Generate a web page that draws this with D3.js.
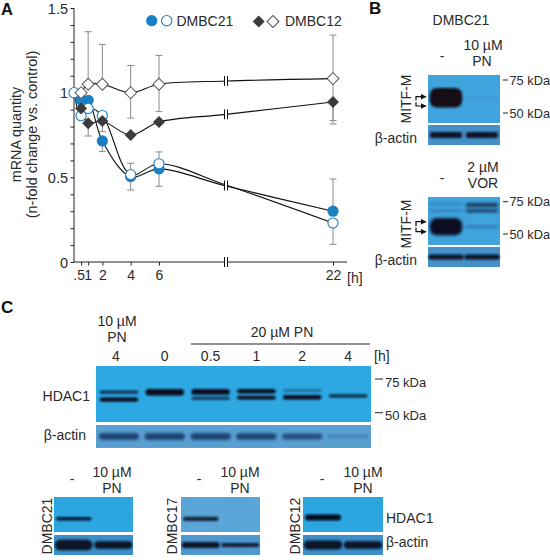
<!DOCTYPE html>
<html><head><meta charset="utf-8">
<script src="https://cdn.jsdelivr.net/npm/d3@7"></script>
<style>
html,body{margin:0;padding:0;background:#fff}
svg{display:block}
text{font-family:"Liberation Sans",Arial,sans-serif;font-size:14px;fill:#2a2a2a}
</style></head><body>
<svg id="c" width="550" height="560"></svg>
<script>
// ---------- Panel A data (n-fold mRNA, hours) ----------
const hours = [0.5, 1, 2, 4, 6, 22];
const breakHour = 12.16;
const dmbc21Treated = [[0.5,0.957],[1,0.955],[2,0.715],[4,0.504],[6,0.55],[breakHour,0.449],[22,0.30]];
const dmbc21Control = [[0,1.0],[0.5,0.864],[1,0.907],[2,0.865],[4,0.516],[6,0.58],[breakHour,0.455],[22,0.23]];
const dmbc12Treated = [[0.5,0.907],[1,0.82],[2,0.833],[4,0.75],[6,0.827],[breakHour,0.872],[22,0.945]];
const dmbc12Control = [[0.5,1.0],[1,1.05],[2,1.05],[4,1.0],[6,1.05],[breakHour,1.069],[22,1.083]];
// [hour, value, whisker end]
const errorBarsGrey = [[1,1.05,1.36],[2,1.05,1.285],[4,1.0,1.16],[4,1.0,0.85],[6,1.05,1.22],[6,1.05,0.888],
  [22,1.083,1.34],[22,1.083,0.835],[1,0.82,0.744],[2,0.715,0.652],[2,0.865,0.77],[22,0.945,0.815],
  [4,0.504,0.425],[6,0.55,0.447],[22,0.30,0.49],[4,0.516,0.583],[6,0.58,0.65],[22,0.23,0.104]];
const yTicks = [0,0.1,0.2,0.3,0.4,0.5,0.6,0.7,0.8,0.9,1,1.1,1.2,1.3,1.4,1.5];
const yLabelled = {0:"0",0.5:"0.5",1:"1",1.5:"1.5"};

// ---------- Blot data: [lane, kDa, signal] ----------
const mitfPnBands = [[0,60.3,6],[1,60,0.1]];
const mitfVorBands = [[0,73,0.25],[0,67,0.25],[0,54.8,5.2],[1,72,0.7],[1,67,0.6],[1,54.8,0.3]];
const hdacTimeBands = [[0,64,0.6],[0,58.5,0.95],[1,64,1.6],[2,64.2,1.4],[2,59.5,0.6],[3,64.8,1],[3,60,0.8],
  [4,65.2,0.35],[4,60.3,1],[5,61.2,0.65]];
const hdacTimeLabels = ["4","0","0.5","1","2","4"];
const actinPn = [1.1,1.1];
const actinVor = [1,1];
const actinTime = [0.85,0.85,0.85,0.8,0.7,0.3];
const hdac21Bands = [[0,62,0.8],[1,62,0.03]];
const hdac17Bands = [[0,62,1],[1,62,0.01]];
const hdac12Bands = [[0,63.5,1.6],[1,62,0.05]];
const actin21 = [2.4,1.6];
const actin17 = [1.3,0.75];
const actin12 = [2,1.6];
const lineNames = ["DMBC21","DMBC17","DMBC12"];
const mwMarks = ["75 kDa","50 kDa"];

const svg = d3.select("#c");
const defs = svg.append("defs");
defs.append("filter").attr("id","blur").attr("x","-20%").attr("y","-100%").attr("width","140%").attr("height","300%")
  .append("feGaussianBlur").attr("stdDeviation","0.9");
defs.append("filter").attr("id","blur2").attr("x","-20%").attr("y","-100%").attr("width","140%").attr("height","300%")
  .append("feGaussianBlur").attr("stdDeviation","1.4");
const mk = defs.append("marker").attr("id","ah").attr("markerUnits","userSpaceOnUse").attr("markerWidth",7).attr("markerHeight",7).attr("refX",5.5).attr("refY",3).attr("orient","auto");
mk.append("path").attr("d","M0,0L6,3L0,6Z").attr("fill","#111");

function t(x,y,s,o={}){
  const e=svg.append("text").attr("x",x).attr("y",y).text(s).attr("text-anchor",o.a||"start");
  if(o.rot) e.attr("transform",`rotate(-90 ${x} ${y})`);
  if(o.b) e.style("font-weight","700").style("font-size",o.b+"px").style("fill","#111");
  if(o.size) e.style("font-size",o.size+"px");
  return e;
}

// ---------- Panel A ----------
t(1,15,"A",{b:16.5});
const xA = d3.scaleLinear().domain([0,6,22]).range([74,159,333]);
const yA = d3.scaleLinear().domain([0,1.5]).range([262,8]);
const gA = svg.append("g");
const yAxis = d3.axisLeft(yA).tickValues(yTicks).tickSize(3.5).tickFormat(d=>{const k=+d.toFixed(1);return yLabelled[k]||"";});
const ga = gA.append("g").attr("transform","translate(74,0)").call(yAxis);
ga.select(".domain").attr("d","M0,8V262").attr("stroke","#222");
ga.selectAll("line").attr("stroke","#222");
ga.selectAll("text").style("font-size","14.5px").attr("x",-6).attr("dy","0.36em");
const xAxis = d3.axisBottom(xA).tickValues(hours).tickSize(3.5).tickFormat(d=>d===0.5?".5":d);
const gx = gA.append("g").attr("transform","translate(0,262)").call(xAxis);
gx.select(".domain").attr("d","M74,0H347").attr("stroke","#222");
gx.selectAll("line").attr("stroke","#222");
gx.selectAll("text").style("font-size","14px").attr("y",7).attr("dy","0.8em");
gx.selectAll(".tick").filter(d=>d===0.5).select("text").attr("x",-2.5);
gx.selectAll(".tick").filter(d=>d===1).select("text").attr("x",-0.5);
t(347,283,"[h]");

t(20.5,134.5,"mRNA quantity",{a:"middle",rot:1,size:14.3});
t(37,134.5,"(n-fold change vs. control)",{a:"middle",rot:1,size:14.5});

// error bars
const eb = gA.append("g").attr("stroke","#8a8a8a").attr("stroke-width",1).attr("fill","none");
eb.selectAll("path").data(errorBarsGrey).join("path")
  .attr("d",d=>`M${xA(d[0])},${yA(d[1])}V${yA(d[2])}`);
eb.selectAll("line").data(errorBarsGrey).join("line")
  .attr("x1",d=>xA(d[0])-3.5).attr("x2",d=>xA(d[0])+3.5)
  .attr("y1",d=>yA(d[2])).attr("y2",d=>yA(d[2]));

// lines
const line = d3.line().x(d=>xA(d[0])).y(d=>yA(d[1])).curve(d3.curveCatmullRom.alpha(0.5));
const lineG = gA.append("g").attr("fill","none").attr("stroke","#111").attr("stroke-width",1.1);
[dmbc12Control,dmbc12Treated,dmbc21Control,dmbc21Treated].forEach(s=>lineG.append("path").attr("d",line(s)));

// break marks
function breakMark(hr,v){
  const x=xA(hr), y=v===0?262:yA(v);
  gA.append("rect").attr("x",x-1.2).attr("y",y-5).attr("width",2.4).attr("height",10).attr("fill","#fff");
  gA.selectAll(null).data([-1.5,1.5]).join("line").attr("x1",d=>x+d).attr("x2",d=>x+d)
    .attr("y1",y-5).attr("y2",y+5).attr("stroke","#111").attr("stroke-width",1);
}
breakMark(breakHour,0);
[dmbc12Control,dmbc12Treated].forEach(s=>breakMark(breakHour,s.find(d=>d[0]===breakHour)[1]));
breakMark(breakHour,0.452);

// markers
const BLUE="#1a80c4", DARK="#3b3b3b";
const diamond = d3.symbol().type(d3.symbolSquare).size(72)();
const noBreak = s=>s.filter(d=>d[0]!==breakHour);
function circles(s,fill){
  gA.selectAll(null).data(noBreak(s)).join("circle").attr("cx",d=>xA(d[0])).attr("cy",d=>yA(d[1])).attr("r",fill?5.6:5.1)
   .attr("fill",fill?BLUE:"#fff").attr("stroke",BLUE).attr("stroke-width",fill?0:1.1);
}
function diamonds(s,fill){
  gA.selectAll(null).data(noBreak(s)).join("path").attr("d",diamond)
   .attr("transform",d=>`translate(${xA(d[0])},${yA(d[1])}) rotate(45)`)
   .attr("fill",fill?DARK:"#fff").attr("stroke",fill?DARK:"#555").attr("stroke-width",fill?0:1);
}
circles(dmbc21Treated,true);
circles(dmbc21Control,false);
diamonds(dmbc12Control,false);
diamonds(dmbc12Treated,true);

// legend
const leg = svg.append("g");
leg.append("circle").attr("cx",151.7).attr("cy",20.7).attr("r",5.6).attr("fill",BLUE);
leg.append("circle").attr("cx",166.7).attr("cy",20.7).attr("r",5.2).attr("fill","#fff").attr("stroke",BLUE).attr("stroke-width",1.1);
leg.append("path").attr("d",diamond).attr("transform","translate(258.7,21.5) rotate(45)").attr("fill",DARK);
leg.append("path").attr("d",diamond).attr("transform","translate(273,21.5) rotate(45)").attr("fill","#fff").attr("stroke","#555");
t(176.5,25.5,"DMBC21");
t(285,26,"DMBC12");

// ---------- Blots ----------
function strip(o){
  const {x0,x1,top,bottom,bg,ink,lanes,bands,mw,actin,blur="blur"}=o;
  const g=svg.append("g");
  g.append("rect").attr("x",x0).attr("y",top).attr("width",x1-x0).attr("height",bottom-top).attr("fill",bg);
  const xL=d3.scaleBand().domain(d3.range(lanes)).range([x0,x1]).paddingInner(o.pad||0.1).paddingOuter((o.pad||0.1)/2);
  const thick=d3.scaleLinear().domain([0,1]).range([1.1,o.k||4.2]);
  const alpha=d3.scaleLinear().domain([0,1]).range([0,1]).clamp(true);
  const corner=d=>Math.min(7,thick(d)/2);
  if(bands){
    const yB=d3.scaleLog().domain([75,50]).range(mw);
    g.selectAll(null).data(bands).join("rect")
     .attr("x",d=>xL(d[0])).attr("width",xL.bandwidth())
     .attr("y",d=>yB(d[1])-thick(d[2])/2).attr("height",d=>thick(d[2]))
     .attr("rx",d=>corner(d[2])).attr("fill",ink).attr("opacity",d=>alpha(d[2]*1.25)).attr("filter",`url(#${blur})`);
  }
  if(actin){
    const mid=(top+bottom)/2;
    g.selectAll(null).data(actin).join("rect")
     .attr("x",(d,i)=>xL(i)).attr("width",xL.bandwidth())
     .attr("y",d=>mid-thick(d)/2).attr("height",d=>thick(d))
     .attr("rx",d=>corner(d)).attr("fill",ink).attr("opacity",d=>alpha(d*1.25)).attr("filter",`url(#${blur})`);
  }
}
const CY2="#3fa3dd", INK="#070d22";
function mwTick(x,y){svg.append("line").attr("x1",x).attr("x2",x+5).attr("y1",y).attr("y2",y).attr("stroke","#222");}

// Panel B
t(369,14,"B",{b:17});
t(461,25,"DMBC21",{a:"middle"});
t(442,61,"-",{a:"middle"}); t(483,50,"10 µM",{a:"middle"}); t(482,66,"PN",{a:"middle"});
strip({x0:428,x1:500,top:75,bottom:123,bg:CY2,ink:"#160a14",lanes:2,bands:mitfPnBands,mw:[80,113],k:4.2});
strip({x0:428,x1:500,top:125,bottom:145,bg:"#4590c8",ink:"#0a1426",lanes:2,actin:actinPn,k:5.5});
mwTick(503,80); mwTick(503,113);
t(509.5,85,mwMarks[0],{size:12.8}); t(509.5,118,mwMarks[1],{size:12.8});
t(411,99,"MITF-M",{a:"middle",rot:1});
t(417,143,"β-actin",{a:"end"});
t(442,183,"-",{a:"middle"}); t(483,172,"2 µM",{a:"middle"}); t(483,188,"VOR",{a:"middle"});
strip({x0:428,x1:500,top:197,bottom:245,bg:CY2,ink:"#0c0d20",lanes:2,bands:mitfVorBands,mw:[201.7,234],k:4.2,blur:"blur2"});
strip({x0:428,x1:500,top:247,bottom:267,bg:"#4590c8",ink:"#0a1426",lanes:2,pad:0.02,actin:actinVor,k:5});
mwTick(503,201.7); mwTick(503,234);
t(509.5,206,mwMarks[0],{size:12.8}); t(509.5,239,mwMarks[1],{size:12.8});
t(411,224,"MITF-M",{a:"middle",rot:1});
t(417,265,"β-actin",{a:"end"});
function arrows(y1,y2){
  const g=svg.append("g").attr("fill","none").attr("stroke","#111").attr("stroke-width",1.2);
  const mid=(y1+y2)/2;
  g.append("path").attr("d",`M416,${mid-0.8}V${y1}H426`).attr("marker-end","url(#ah)");
  g.append("path").attr("d",`M416,${mid+0.8}V${y2}H426`).attr("marker-end","url(#ah)");
}
arrows(96.7,106);
arrows(221.7,231.7);

// Panel C, time course
t(1,313,"C",{b:17});
t(117,326,"10 µM",{a:"middle"}); t(117,342,"PN",{a:"middle"});
t(282,337,"20 µM PN",{a:"middle"});
svg.append("line").attr("x1",191).attr("x2",370).attr("y1",344).attr("y2",344).attr("stroke","#222");
const xLaneC=d3.scaleBand().domain(d3.range(hdacTimeLabels.length)).range([96,371]);
svg.append("g").selectAll("text").data(hdacTimeLabels).join("text")
  .attr("x",(d,i)=>xLaneC(i)+xLaneC.bandwidth()/2-(i===0?3:0)).attr("y",361).attr("text-anchor","middle").text(d=>d);
t(374,361,"[h]");
strip({x0:96,x1:371,top:366,bottom:422,bg:"#2da8e2",ink:INK,lanes:6,bands:hdacTimeBands,mw:[379,412.7],k:4.5,pad:0.16});
strip({x0:96,x1:371,top:425,bottom:448,bg:"#5a9fd2",ink:"#1f4472",lanes:6,actin:actinTime,k:8,pad:0.12,blur:"blur2"});
[[379,0,387],[412.7,1,420]].forEach(([y,i,b])=>{
  svg.append("line").attr("x1",375).attr("x2",383).attr("y1",y).attr("y2",y).attr("stroke","#222");
  t(385,b,mwMarks[i],{size:13});
});
t(90,400.5,"HDAC1",{a:"end"});
t(86,440,"β-actin",{a:"end"});

// Panel C, cell lines
const small=[
 {x0:54,x1:133,bg:"#2da6e0",abg:"#3a8fcb",b:hdac21Bands,a:actin21,ink:"#06143c",name:0,lab:52,dash:72,um:112},
 {x0:181,x1:260,bg:"#5aa6d8",abg:"#4f97cf",b:hdac17Bands,a:actin17,ink:"#12243e",name:1,lab:177,dash:199,um:240},
 {x0:303,x1:383,bg:"#2da6e0",abg:"#3a8fcb",b:hdac12Bands,a:actin12,ink:"#050a1e",name:2,lab:300,dash:322,um:363}];
small.forEach(p=>{
  strip({x0:p.x0,x1:p.x1,top:497,bottom:532,bg:p.bg,ink:p.ink,lanes:2,bands:p.b,mw:[508,531],k:4.2});
  strip({x0:p.x0,x1:p.x1,top:535,bottom:555,bg:p.abg,ink:"#081228",lanes:2,actin:p.a,k:5,pad:0.04});
  t(p.lab,526,lineNames[p.name],{a:"middle",rot:1});
  t(p.dash,484,"-",{a:"middle"});
  t(p.um,477,"10 µM",{a:"middle"});
  t(p.um,493,"PN",{a:"middle"});
});
t(386,523,"HDAC1");
t(386,547,"β-actin");
</script>
</body></html>
